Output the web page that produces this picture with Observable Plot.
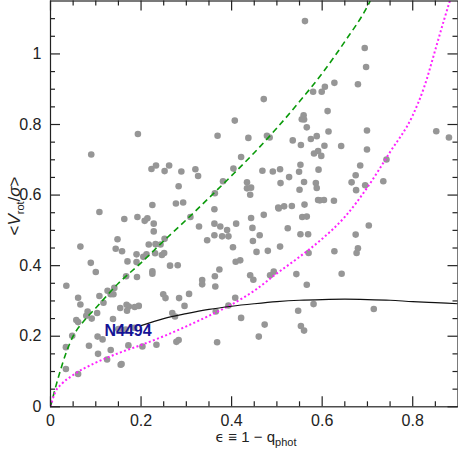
<!DOCTYPE html>
<html><head><meta charset="utf-8">
<script src="https://cdn.jsdelivr.net/npm/d3@7"></script>
<script src="https://cdn.jsdelivr.net/npm/@observablehq/plot@0.6"></script>
<style>html,body{margin:0;padding:0;background:#fff} svg{display:block}</style>
</head><body><div id="chart"></div>
<script>
// scatter: ellipticity and <V_rot/sigma>
const eps = [0.562,0.694,0.697,0.627,0.679,0.606,0.580,0.599,0.471,
0.407,0.193,0.369,0.437,0.090,0.421,0.223,0.233,0.262,0.252,0.289,0.320,0.326,0.404,0.283,0.381,0.434,0.434,0.443,0.441,0.363,0.225,0.277,0.293,
0.612,0.559,0.555,0.560,0.566,0.614,0.699,0.478,0.484,0.535,0.575,0.588,0.553,0.605,0.642,0.699,0.591,0.582,0.598,0.852,0.880,0.742,0.552,0.684,0.468,0.491,0.507,0.549,0.592,0.527,0.674,0.508,0.560,0.586,0.588,0.550,0.665,0.695,0.735,0.675,0.591,0.595,0.604,0.626,0.561,0.516,0.533,0.503,
0.108,0.362,0.163,0.192,0.208,0.214,0.228,0.228,0.309,0.328,0.362,0.375,0.390,0.410,0.443,0.446,0.362,0.379,0.393,0.346,0.447,0.066,0.148,0.144,0.158,0.217,0.232,0.252,0.243,0.190,0.205,0.212,0.231,0.246,0.251,0.403,0.409,0.419,0.170,0.190,0.089,0.100,0.264,0.281,0.225,0.225,0.167,0.191,0.373,0.363,0.441,0.335,0.335,0.364,0.035,0.141,0.126,0.133,0.139,0.108,0.061,0.066,0.117,0.249,0.254,0.284,0.306,0.296,0.168,0.173,0.154,0.186,0.195,0.408,0.393,
0.504,0.471,0.556,0.566,0.703,0.524,0.462,0.552,0.569,0.674,0.455,0.480,0.507,0.570,0.627,0.679,0.676,0.448,0.485,0.493,0.543,0.643,0.566,0.581,
0.082,0.079,0.057,0.061,0.091,0.103,0.138,0.169,0.269,0.275,0.365,0.421,0.048,0.034,0.034,0.061,0.085,0.104,0.115,0.105,0.125,0.133,0.155,0.157,0.172,0.203,0.234,0.278,0.283,0.368,0.150,0.166,0.185,
0.547,0.714,0.473,0.460,0.553,0.560];
const vrot = [1.093,1.017,0.963,0.918,0.914,0.907,0.893,0.893,0.872,
0.811,0.773,0.768,0.762,0.715,0.708,0.674,0.684,0.684,0.668,0.667,0.673,0.654,0.675,0.625,0.639,0.636,0.619,0.621,0.601,0.605,0.572,0.576,0.579,
0.838,0.826,0.815,0.814,0.792,0.780,0.783,0.768,0.763,0.755,0.759,0.767,0.742,0.740,0.739,0.729,0.725,0.718,0.711,0.781,0.763,0.701,0.686,0.684,0.669,0.667,0.673,0.666,0.672,0.651,0.656,0.634,0.637,0.634,0.620,0.615,0.636,0.628,0.639,0.614,0.586,0.585,0.586,0.584,0.573,0.568,0.569,0.565,
0.552,0.560,0.532,0.538,0.527,0.534,0.519,0.497,0.538,0.511,0.519,0.511,0.501,0.519,0.535,0.507,0.486,0.483,0.483,0.472,0.470,0.454,0.475,0.448,0.441,0.460,0.461,0.476,0.460,0.432,0.425,0.432,0.435,0.430,0.436,0.452,0.411,0.415,0.412,0.410,0.408,0.382,0.400,0.401,0.384,0.377,0.370,0.368,0.389,0.370,0.373,0.359,0.347,0.341,0.343,0.337,0.329,0.319,0.319,0.314,0.309,0.290,0.295,0.319,0.308,0.308,0.320,0.286,0.289,0.284,0.280,0.283,0.286,0.309,0.287,
0.562,0.544,0.538,0.539,0.514,0.506,0.486,0.489,0.489,0.488,0.439,0.442,0.454,0.436,0.441,0.449,0.436,0.360,0.373,0.383,0.376,0.377,0.346,0.291,
0.270,0.258,0.246,0.240,0.250,0.266,0.249,0.272,0.266,0.256,0.270,0.252,0.201,0.169,0.107,0.093,0.173,0.199,0.191,0.150,0.134,0.161,0.119,0.121,0.174,0.171,0.176,0.184,0.189,0.183,0.220,0.219,0.224,
0.272,0.277,0.233,0.199,0.229,0.216];

// green dashed curve
const greenEps = [0,0.01,0.02,0.035,0.05,0.075,0.10,0.15,0.20,0.25,0.30,0.35,0.40,0.45,0.50,0.55,0.60,0.65,0.70,0.706];
const greenV   = [0,0.05,0.095,0.155,0.20,0.245,0.28,0.35,0.408,0.47,0.53,0.592,0.655,0.72,0.79,0.865,0.945,1.035,1.135,1.15];
// magenta dotted curve
const magEps = [0,0.01,0.025,0.05,0.10,0.15,0.20,0.25,0.30,0.35,0.40,0.45,0.50,0.55,0.60,0.65,0.70,0.75,0.80,0.825,0.85,0.87,0.882];
const magV   = [0,0.04,0.065,0.09,0.125,0.152,0.175,0.20,0.228,0.258,0.29,0.329,0.378,0.425,0.476,0.538,0.622,0.722,0.826,0.905,1.012,1.10,1.15];
// black N4494 curve
const blackEps = [0.200,0.250,0.300,0.350,0.400,0.450,0.500,0.550,0.600,0.650,0.700,0.750,0.800,0.850,0.900];
const blackV   = [0.230,0.250,0.264,0.276,0.285,0.292,0.298,0.302,0.304,0.305,0.304,0.302,0.298,0.295,0.292];

const labelText = ["N4494"], labelEps = [0.119], labelV = [0.214];

const xMajor = [0,0.2,0.4,0.6,0.8];
const xTickLabels = ["0","0.2","0.4","0.6","0.8"];
const xMinor = [0.05,0.1,0.15,0.25,0.3,0.35,0.45,0.5,0.55,0.65,0.7,0.75,0.85];
const yMajor = [0,0.2,0.4,0.6,0.8,1];
const yTickLabels = ["0","0.2","0.4","0.6","0.8","1"];
const yMinor = [0.05,0.1,0.15,0.25,0.3,0.35,0.45,0.5,0.55,0.65,0.7,0.75,0.85,0.9,0.95,1.05,1.1];

const pts = eps.map((e,i)=>({x:e, y:vrot[i]}));
const green = greenEps.map((e,i)=>({x:e, y:greenV[i]}));
const mag = magEps.map((e,i)=>({x:e, y:magV[i]}));
const black = blackEps.map((e,i)=>({x:e, y:blackV[i]}));
const lab = labelText.map((t,i)=>({t, x:labelEps[i], y:labelV[i]}));

const W=458, H=452, mL=50, mR=0.5, mT=0.5, mB=45.7;
const pW = W-mL-mR, pH = H-mT-mB;
const tickCol = "#222";

const chart = Plot.plot({
  width: W, height: H,
  marginLeft: mL, marginRight: mR, marginTop: mT, marginBottom: mB,
  style: {fontFamily: "'Liberation Sans', Arial, sans-serif", fontSize: "16px", color: "#222", background: "#fff"},
  x: {domain: [0, 0.9]},
  y: {domain: [0, 1.15]},
  marks: [
    Plot.dot(pts, {x:"x", y:"y", r:3.3, fill:"#969696"}),
    Plot.line(green, {x:"x", y:"y", stroke:"#0a9a0a", strokeWidth:1.6, strokeDasharray:"6,4", strokeLinecap:"butt", curve:"monotone-x", clip:true}),
    Plot.line(mag, {x:"x", y:"y", stroke:"#ff22ff", strokeWidth:2, strokeDasharray:"2,2.4", strokeLinecap:"butt", curve:"monotone-x", clip:true}),
    Plot.line(black, {x:"x", y:"y", stroke:"#111", strokeWidth:1.2, curve:"monotone-x", clip:true}),
    Plot.text(lab, {x:"x", y:"y", text:"t", textAnchor:"start", fill:"#141496", fontSize:16, fontWeight:"bold"}),
    // inward ticks on all four sides
    Plot.tickX(xMajor, {x:d=>d, insetTop:pH-10, stroke:tickCol, strokeWidth:1.2}),
    Plot.tickX(xMinor, {x:d=>d, insetTop:pH-5, stroke:tickCol, strokeWidth:1.2}),
    Plot.tickX(xMajor, {x:d=>d, insetBottom:pH-10, stroke:tickCol, strokeWidth:1.2}),
    Plot.tickX(xMinor, {x:d=>d, insetBottom:pH-5, stroke:tickCol, strokeWidth:1.2}),
    Plot.tickY(yMajor, {y:d=>d, insetRight:pW-10, stroke:tickCol, strokeWidth:1.2}),
    Plot.tickY(yMinor, {y:d=>d, insetRight:pW-5, stroke:tickCol, strokeWidth:1.2}),
    Plot.tickY(yMajor, {y:d=>d, insetLeft:pW-10, stroke:tickCol, strokeWidth:1.2}),
    Plot.tickY(yMinor, {y:d=>d, insetLeft:pW-5, stroke:tickCol, strokeWidth:1.2}),
    Plot.axisX(xMajor, {tickSize:0, tickPadding:8, label:null, tickFormat:d=>xTickLabels[xMajor.indexOf(d)]}),
    Plot.axisY(yMajor, {tickSize:0, tickPadding:9, label:null, tickFormat:d=>yTickLabels[yMajor.indexOf(d)]}),
    Plot.frame({stroke:"#222", strokeWidth:1.2})
  ]
});
document.getElementById("chart").appendChild(chart);

// axis titles with subscripts
const svg = d3.select(chart);
const xl = svg.append("text")
  .attr("transform", "translate(256,442)")
  .attr("text-anchor", "middle")
  .attr("font-family", "'Liberation Sans', Arial, sans-serif")
  .attr("font-size", 15).attr("fill", "#222");
xl.append("tspan").attr("font-family","'DejaVu Sans', sans-serif").attr("font-size",14).text("ϵ");
xl.append("tspan").text(" ≡ 1 − q");
xl.append("tspan").attr("font-size", 11).attr("dy", 4).text("phot");

const yl = svg.append("text")
  .attr("transform", "translate(20,206) rotate(-90)")
  .attr("text-anchor", "middle")
  .attr("font-family", "'Liberation Sans', Arial, sans-serif")
  .attr("font-size", 17).attr("fill", "#222");
yl.append("tspan").text("<");
yl.append("tspan").attr("font-style","italic").text("V");
yl.append("tspan").attr("font-size", 11).attr("dy", 4).text("rot");
yl.append("tspan").attr("dy", -4).text("/");
yl.append("tspan").attr("font-style","italic").text("σ");
yl.append("tspan").text(">");
</script>
</body></html>
